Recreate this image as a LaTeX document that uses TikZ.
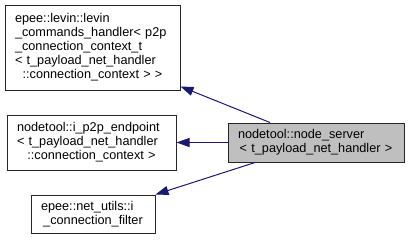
\documentclass[tikz,border=0pt]{standalone}
\usepackage{fontspec}
\setmainfont{Liberation Sans}
\usetikzlibrary{arrows.meta}

\definecolor{edgeblue}{HTML}{191970}
\newcommand{\lastline}[1]{\makebox[\linewidth]{#1}}

\tikzset{
    class/.style={draw=black!85, line width=1pt, fill=white, inner xsep=10pt, inner ysep=3pt,
        align=left, font=\fontsize{12.7}{14}\selectfont},
    current/.style={class, fill=black!25},
    inherit/.style={draw=edgeblue, line width=1pt, -{Triangle[length=13pt, width=9pt]}},
}

\begin{document}
\begin{tikzpicture}[x=1pt, y=-1pt]
    \useasboundingbox (0,0) rectangle (409,242);
    \node[class, text width=155pt, minimum height=85pt] (levin) at (92.5,47.5)
        {epee::levin::levin\\ \_commands\_handler< p2p\\ \_connection\_context\_t\\
         < t\_payload\_net\_handler\\ \lastline{::connection\_context > >}};
    \node[class, text width=149pt, minimum height=55pt] (endpoint) at (91.5,142.5)
        {nodetool::i\_p2p\_endpoint\\ < t\_payload\_net\_handler\\ \lastline{::connection\_context >}};
    \node[class, text width=104pt, minimum height=38pt] (filter) at (93,214)
        {epee::net\_utils::i\\ \lastline{\_connection\_filter}};
    \node[current, text width=156pt, minimum height=39pt] (server) at (316,142.5)
        {nodetool::node\_server\\ \lastline{< t\_payload\_net\_handler >}};
    \draw[inherit] ([xshift=-46pt]server.north) -- ([yshift=4pt]levin.south east);
    \draw[inherit] (server.west) -- (endpoint.east);
    \draw[inherit] ([xshift=-61pt]server.south) -- (filter.north east);
\end{tikzpicture}
\end{document}
